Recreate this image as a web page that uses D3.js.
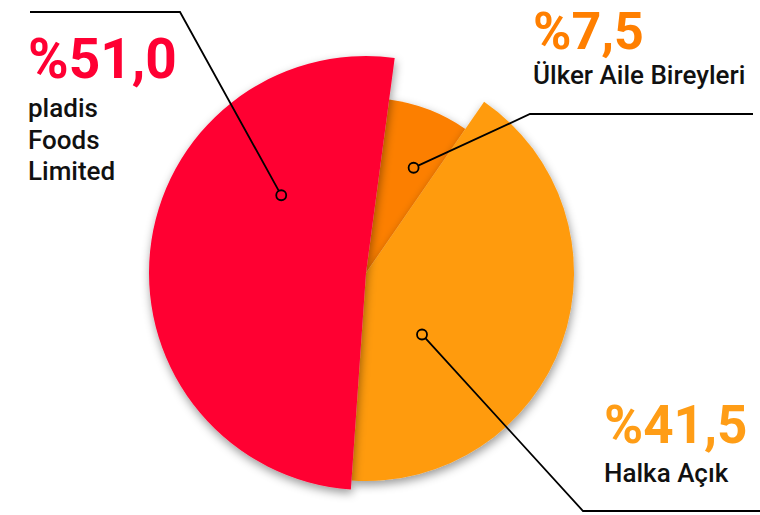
<!DOCTYPE html>
<html>
<head>
<meta charset="utf-8">
<script src="https://cdn.jsdelivr.net/npm/d3@7"></script>
<style>
  html, body { margin: 0; padding: 0; background: #fff; }
  svg { display: block; }
</style>
</head>
<body>
<svg id="chart" width="760" height="515"></svg>
<script>
// ---- data ----
const categories = ["pladis Foods Limited", "Ülker Aile Bireyleri", "Halka Açık"];
const shares = [51.0, 7.5, 41.5];
const valueLabels = ["%51,0", "%7,5", "%41,5"];
const nameLines = [["pladis", "Foods", "Limited"], ["Ülker Aile Bireyleri"], ["Halka Açık"]];

// ---- style / layout ----
const W = 760, H = 515;
const cx = 366, cy = 273;
const sliceColors = ["#FF0033", "#FC7F04", "#FF9B0F"];
const textColors = ["#FF0033", "#FF7F00", "#FF9D16"];
const outerR = [217, 175, 208];
const drawOrder = [1, 2, 0];           // dark orange bottom, red on top
const dotPos = [{f: 0.70, r: 0.53}, {f: 0.62, r: 0.66}, {f: 0.69, r: 0.40}];
const leader = [
  {elbow: [180, 12], end: [30, 12]},
  {elbow: [530, 114], end: [753, 114]},
  {elbow: [583, 511], end: [760, 511]}
];
const labelPos = [
  {x: 28, y: 78, size: 55, lineY: 117, dy: 31.5},
  {x: 533, y: 49, size: 52, lineY: 84, dy: 31.5},
  {x: 604, y: 443, size: 53, lineY: 482, dy: 31.5}
];

const svg = d3.select("#chart");
const defs = svg.append("defs");
const filt = defs.append("filter").attr("id", "shadow")
  .attr("x", "-30%").attr("y", "-30%").attr("width", "160%").attr("height", "160%");
filt.append("feDropShadow").attr("dx", 1).attr("dy", 4).attr("stdDeviation", 5)
  .attr("flood-color", "#000").attr("flood-opacity", 0.4);

const startA = 184 * Math.PI / 180;
const pie = d3.pie().sort(null).value(d => d)
  .startAngle(startA).endAngle(startA + 2 * Math.PI);
const arcs = pie(shares);

const g = svg.append("g").attr("transform", `translate(${cx},${cy})`);
drawOrder.forEach(i => {
  const a = arcs[i];
  const arc = d3.arc().innerRadius(0).outerRadius(outerR[i]);
  g.append("path")
    .attr("d", arc(a))
    .attr("fill", sliceColors[i])
    .attr("filter", "url(#shadow)");
});

// leader lines & dots
arcs.forEach((a, i) => {
  const ang = a.startAngle + dotPos[i].f * (a.endAngle - a.startAngle);
  const rr = dotPos[i].r * outerR[i];
  const px = cx + rr * Math.sin(ang), py = cy - rr * Math.cos(ang);
  const L = leader[i];
  const line = d3.line();
  const dx = L.elbow[0] - px, dy = L.elbow[1] - py, len = Math.hypot(dx, dy);
  const sx = px + dx / len * 5, sy = py + dy / len * 5;
  svg.append("path")
    .attr("d", line([[sx, sy], L.elbow, L.end]))
    .attr("fill", "none").attr("stroke", "#000").attr("stroke-width", 1.8);
  svg.append("circle").attr("cx", px).attr("cy", py).attr("r", 5)
    .attr("fill", "none").attr("stroke", "#000").attr("stroke-width", 1.8);
});

// labels
arcs.forEach((a, i) => {
  const p = labelPos[i];
  svg.append("text")
    .attr("x", p.x).attr("y", p.y)
    .attr("fill", textColors[i])
    .attr("font-family", "Roboto, 'DejaVu Sans', sans-serif")
    .attr("font-weight", 700)
    .attr("font-size", p.size)
    .text(valueLabels[i]);
  nameLines[i].forEach((t, k) => {
    svg.append("text")
      .attr("x", p.x).attr("y", p.lineY + k * p.dy)
      .attr("fill", "#111")
      .attr("font-family", "Roboto, 'DejaVu Sans', sans-serif")
      .attr("font-weight", 500)
      .attr("font-size", 26)
      .text(t);
  });
});
</script>
</body>
</html>
